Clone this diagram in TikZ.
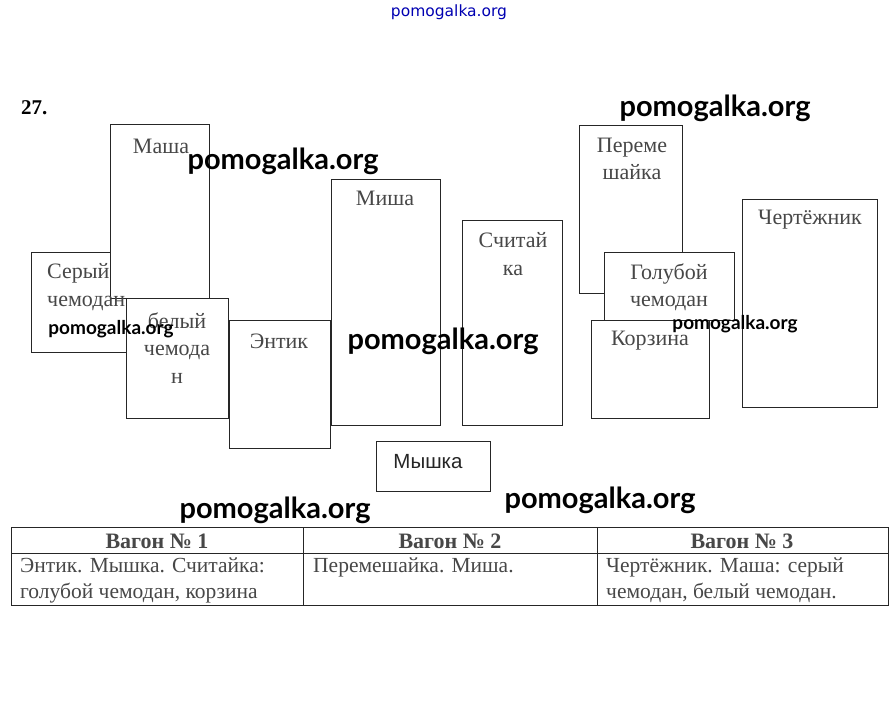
\documentclass[tikz,border=0pt]{standalone}
\usepackage{fontspec}
\setmainfont{Liberation Serif}
\newfontfamily\wmfont{Lato}
\newfontfamily\arialfont{Liberation Sans}
\newfontfamily\topfont{DejaVu Sans}
\begin{document}
\begin{tikzpicture}[x=1pt,y=-1pt,
  box/.style={draw=black!85, line width=0.9pt, fill=white},
  lbl/.style={font=\fontsize{22}{27.5}\selectfont, text=black!72, inner sep=0pt, align=center},
  tcell/.style={font=\fontsize{21.5}{26}\selectfont, text=black!72, inner sep=0pt, align=left, anchor=west},
  thead/.style={font=\bfseries\fontsize{22}{24}\selectfont, text=black!72, inner sep=0pt},
  wm/.style={font=\wmfont\bfseries\fontsize{29}{32}\selectfont, text=black, inner sep=0pt},
  wms/.style={font=\wmfont\bfseries\fontsize{19}{22}\selectfont, text=black, inner sep=0pt}]
\useasboundingbox[fill=white] (0,0) rectangle (896,702);
% header mark
\node[font=\topfont\fontsize{15.5}{17}\selectfont, text=blue!70!black, inner sep=0pt] (top) at (449,12) {pomogalka.org};
\node[font=\bfseries\fontsize{21}{24}\selectfont, inner sep=0pt, anchor=west] (num) at (21,108) {27.};
% boxes (drawn in layer order)
\draw[box] (31,252) rectangle (170,352);
\draw[box] (110,124) rectangle (209,298);
\draw[box] (126,298) rectangle (228,418);
\draw[box] (229,320) rectangle (330,448);
\draw[box] (331,179) rectangle (440,425);
\draw[box] (462,220) rectangle (562,425);
\draw[box] (376,441) rectangle (490,491);
\draw[box] (579,125) rectangle (682,293);
\draw[box] (604,252) rectangle (734,320);
\draw[box] (591,320) rectangle (709,418);
\draw[box] (742,199) rectangle (877,407);
% box labels
\node[lbl, align=left, anchor=west] (seryj) at (47,287) {Серый\\чемодан};
\node[lbl] (masha) at (161,146) {Маша};
\node[lbl] (belyj) at (177,348) {белый\\чемода\\н};
\node[lbl] (entik) at (279,341) {Энтик};
\node[lbl] (misha) at (385,198) {Миша};
\node[lbl] (schit) at (513,254) {Считай\\ка};
\node[lbl, font=\arialfont\fontsize{20.5}{24}\selectfont, text=black!85] (myshka) at (428,462) {Мышка};
\node[lbl] (perem) at (632,159) {Переме\\шайка};
\node[lbl] (golub) at (669,287) {Голубой\\чемодан};
\node[lbl] (korz) at (650,341) {Корзина};
\node[lbl] (chert) at (810,220) {Чертёжник};
% table
\draw[black!85, line width=0.9pt] (11,527) rectangle (888,605);
\draw[black!85, line width=0.9pt] (11,553) -- (888,553);
\draw[black!85, line width=0.9pt] (303,527) -- (303,605);
\draw[black!85, line width=0.9pt] (597,527) -- (597,605);
\node[thead] (h1) at (157,541) {Вагон № 1};
\node[thead] (h2) at (450,541) {Вагон № 2};
\node[thead] (h3) at (742,541) {Вагон № 3};
\node[tcell] (c1) at (20,580) {Энтик. Мышка. Считайка:\\голубой чемодан, корзина};
\node[tcell] (c2) at (313,567) {Перемешайка. Миша.};
\node[tcell] (c3) at (606,580) {Чертёжник. Маша: серый\\чемодан, белый чемодан.};
% watermarks
\node[wm] (w1) at (715,108) {pomogalka.org};
\node[wm] (w2) at (283,161) {pomogalka.org};
\node[wm] (w3) at (443,341) {pomogalka.org};
\node[wm] (w4) at (275,510) {pomogalka.org};
\node[wm] (w5) at (600,500) {pomogalka.org};
\node[wms] (w6) at (111,329) {pomogalka.org};
\node[wms] (w7) at (735,324) {pomogalka.org};
\end{tikzpicture}
\end{document}
